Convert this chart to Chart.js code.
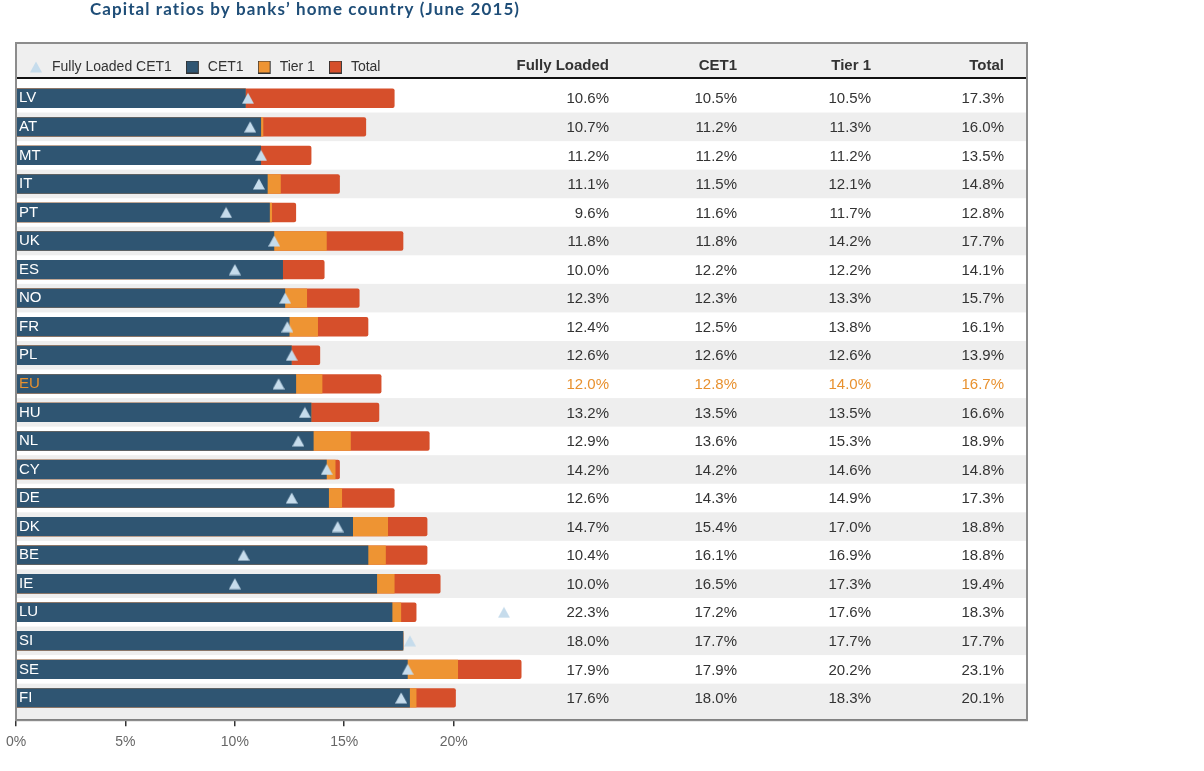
<!DOCTYPE html>
<html>
<head>
<meta charset="utf-8">
<script src="https://cdn.jsdelivr.net/npm/chart.js@4.4.1/dist/chart.umd.min.js"></script>
<style>
  body { margin: 0; background: #fff; }
  #wrap { position: relative; width: 1204px; height: 771px; }
</style>
</head>
<body>
<div id="wrap"><canvas id="chart_1"></canvas></div>
<script>
const countries = ["LV", "AT", "MT", "IT", "PT", "UK", "ES", "NO", "FR", "PL", "EU",
  "HU", "NL", "CY", "DE", "DK", "BE", "IE", "LU", "SI", "SE", "FI"];
const fullyLoaded = [10.6, 10.7, 11.2, 11.1, 9.6, 11.8, 10.0, 12.3, 12.4, 12.6, 12.0,
  13.2, 12.9, 14.2, 12.6, 14.7, 10.4, 10.0, 22.3, 18.0, 17.9, 17.6];
const cet1 = [10.5, 11.2, 11.2, 11.5, 11.6, 11.8, 12.2, 12.3, 12.5, 12.6, 12.8,
  13.5, 13.6, 14.2, 14.3, 15.4, 16.1, 16.5, 17.2, 17.7, 17.9, 18.0];
const tier1 = [10.5, 11.3, 11.2, 12.1, 11.7, 14.2, 12.2, 13.3, 13.8, 12.6, 14.0,
  13.5, 15.3, 14.6, 14.9, 17.0, 16.9, 17.3, 17.6, 17.7, 20.2, 18.3];
const total = [17.3, 16.0, 13.5, 14.8, 12.8, 17.7, 14.1, 15.7, 16.1, 13.9, 16.7,
  16.6, 18.9, 14.8, 17.3, 18.8, 18.8, 19.4, 18.3, 17.7, 23.1, 20.1];
const columnHeaders = ["Fully Loaded", "CET1", "Tier 1", "Total"];
const title = "Capital ratios by banks\u2019 home country (June 2015)";

const NAVY = "#2f5572";
const ORANGE = "#ee9433";
const RED = "#d64f2b";
const ICE = "#c6dcec";
const ORANGE_TEXT = "#e8912f";
const colRight = [609, 737, 871, 1004];

Chart.defaults.font.family = "'Liberation Sans', Arial, sans-serif";
Chart.defaults.color = "#333";

function points(values) {
  return values.map((v, i) => ({ x: v, y: i }));
}

// small canvas used as a point style
function marker(w, h, draw) {
  const c = document.createElement("canvas");
  c.width = w;
  c.height = h;
  draw(c.getContext("2d"));
  return c;
}
function triangle(g, x0) {
  g.fillStyle = ICE;
  g.beginPath();
  g.moveTo(x0 + 6, 0.5);
  g.lineTo(x0 + 12, 11.5);
  g.lineTo(x0, 11.5);
  g.closePath();
  g.fill();
}
const triPoint = marker(12, 12, (g) => triangle(g, 0));
const triLegend = marker(15, 12, (g) => triangle(g, 0));
const squareLegend = (fill) => marker(15, 13, (g) => {
  g.fillStyle = fill;
  g.strokeStyle = "#333";
  g.lineWidth = 1;
  g.fillRect(0.5, 0.5, 12, 12);
  g.strokeRect(0.5, 0.5, 12, 12);
});
const legendMarks = [triLegend, squareLegend(NAVY), squareLegend(ORANGE), squareLegend(RED)];

// row bands, header strip, table and frame
const backdrop = {
  id: "backdrop",
  beforeDraw(chart) {
    const { ctx, chartArea } = chart;
    ctx.save();
    ctx.fillStyle = "#efefef";
    ctx.fillRect(chartArea.left, 43, chartArea.right - chartArea.left, 35);
    ctx.restore();
  },
  beforeDatasetsDraw(chart) {
    const { ctx, chartArea } = chart;
    const y = chart.scales.y;
    ctx.save();
    ctx.fillStyle = "#eeeeee";
    countries.forEach((c, i) => {
      if (i % 2 === 0) return;
      const top = y.getPixelForValue(i - 0.5);
      const bottom = i === countries.length - 1 ? chartArea.bottom : y.getPixelForValue(i + 0.5);
      ctx.fillRect(chartArea.left, top, chartArea.right - chartArea.left, bottom - top);
    });
    ctx.restore();
  },
  afterDraw(chart) {
    const { ctx, chartArea } = chart;
    const y = chart.scales.y;
    ctx.save();
    ctx.strokeStyle = "#111";
    ctx.lineWidth = 2;
    ctx.beginPath();
    ctx.moveTo(chartArea.left, 78);
    ctx.lineTo(chartArea.right, 78);
    ctx.stroke();
    ctx.strokeStyle = "#8c8c8c";
    ctx.lineWidth = 2;
    ctx.strokeRect(chartArea.left, 43, chartArea.right - chartArea.left, chartArea.bottom - 43);

    ctx.textAlign = "right";
    ctx.textBaseline = "middle";
    ctx.font = "bold 15px 'Liberation Sans', Arial, sans-serif";
    ctx.fillStyle = "#333";
    columnHeaders.forEach((h, k) => ctx.fillText(h, colRight[k], 66));
    ctx.font = "15px 'Liberation Sans', Arial, sans-serif";
    const cols = [fullyLoaded, cet1, tier1, total];
    countries.forEach((c, i) => {
      const py = y.getPixelForValue(i) + 1;
      ctx.fillStyle = c === "EU" ? ORANGE_TEXT : "#333";
      cols.forEach((arr, k) => ctx.fillText(arr[i].toFixed(1) + "%", colRight[k], py));
    });

    ctx.textAlign = "center";
    ctx.textBaseline = "alphabetic";
    ctx.font = "bold 17px Lato, 'Open Sans', sans-serif";
    ctx.letterSpacing = "1.1px";
    ctx.fillStyle = "#1f4e78";
    ctx.fillText(title, 305, 15);
    ctx.restore();
  },
};

const ctx1 = document.getElementById("chart_1").getContext("2d");

var myChart1 = new Chart(ctx1, {
  type: "bar",
  data: {
    datasets: [
      {
        type: "scatter",
        label: "Fully Loaded CET1",
        data: points(fullyLoaded),
        order: 0,
        pointStyle: triPoint,
        pointRadius: 6,
        backgroundColor: ICE,
        borderWidth: 0,
      },
      {
        label: "CET1",
        data: points(cet1),
        order: 1,
        indexAxis: "y",
        grouped: false,
        backgroundColor: NAVY,
        barPercentage: 0.7,
        categoryPercentage: 0.97,
      },
      {
        label: "Tier 1",
        data: points(tier1),
        order: 2,
        indexAxis: "y",
        grouped: false,
        backgroundColor: ORANGE,
        barPercentage: 0.7,
        categoryPercentage: 0.97,
      },
      {
        label: "Total",
        data: points(total),
        order: 3,
        indexAxis: "y",
        grouped: false,
        backgroundColor: RED,
        borderRadius: 2,
        borderSkipped: "left",
        barPercentage: 0.7,
        categoryPercentage: 0.97,
      },
    ],
  },
  options: {
    maintainAspectRatio: false,
    responsive: true,
    animation: false,
    layout: {
      padding: { left: 16, right: 177, top: 46, bottom: 12 },
    },
    plugins: {
      tooltip: { enabled: false },
      legend: {
        position: "top",
        align: "start",
        labels: {
          usePointStyle: true,
          pointStyleWidth: 15,
          boxWidth: 15,
          boxHeight: 13,
          padding: 14,
          color: "#333",
          font: { size: 14, lineHeight: 1 },
          generateLabels(chart) {
            const items = Chart.defaults.plugins.legend.labels.generateLabels(chart);
            items.forEach((it) => {
              it.pointStyle = legendMarks[it.datasetIndex];
              it.lineWidth = 0;
            });
            return items;
          },
        },
      },
    },
    scales: {
      x: {
        type: "linear",
        min: 0,
        max: 46.2,
        offset: false,
        grid: {
          offset: false,
          drawOnChartArea: false,
          tickLength: 6,
          lineWidth: 1.5,
          tickColor: (c) => (c.tick && c.tick.value <= 20 ? "#333" : "rgba(0,0,0,0)"),
        },
        border: { color: "#555", width: 1.5, z: 1 },
        afterFit: (scale) => {
          scale.paddingLeft = 0;
          scale.paddingRight = 0;
        },
        ticks: {
          stepSize: 5,
          padding: 8,
          color: "#666",
          font: { size: 14 },
          callback: (v) => (v <= 20 && v % 5 === 0 ? v + "%" : ""),
        },
      },
      y: {
        type: "linear",
        reverse: true,
        min: -0.5,
        max: 21.78,
        offset: false,
        grid: { display: false },
        border: { display: false },
        afterBuildTicks: (scale) => {
          scale.ticks = countries.map((c, i) => ({ value: i }));
        },
        afterFit: (scale) => {
          scale.width = 0;
          scale.paddingTop = 0;
          scale.paddingBottom = 0;
        },
        ticks: {
          mirror: true,
          padding: 3,
          z: 1,
          autoSkip: false,
          font: { size: 15 },
          color: (c) => (countries[c.index] === "EU" ? ORANGE_TEXT : "#fff"),
          callback: (v) => countries[v],
        },
      },
    },
  },
  plugins: [backdrop],
});
</script>
</body>
</html>
